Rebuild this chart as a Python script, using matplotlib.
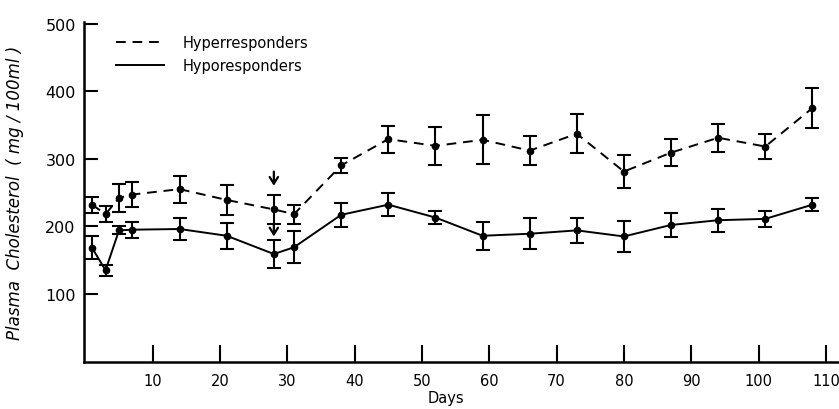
import matplotlib.pyplot as plt
from matplotlib.lines import Line2D

# plasma cholesterol over the feeding period, mean +/- SE
days = [1, 3, 5, 7, 14, 21, 28, 31, 38, 45, 52, 59, 66, 73, 80, 87, 94, 101, 108]
hyper = [232, 218, 242, 247, 255, 239, 225, 218, 290, 329, 319, 328, 312, 337, 281, 309, 331, 318, 375]
hyper_err = [12, 12, 21, 19, 20, 22, 21, 14, 11, 20, 28, 36, 22, 29, 25, 20, 21, 19, 29]
hypo = [168, 135, 194, 195, 196, 186, 159, 169, 217, 232, 213, 186, 189, 194, 185, 202, 209, 211, 232]
hypo_err = [17, 8, 6, 12, 16, 19, 21, 24, 18, 17, 9, 21, 23, 18, 23, 18, 17, 12, 10]

xticks = [10, 20, 30, 40, 50, 60, 70, 80, 90, 100, 110]
yticks = [100, 200, 300, 400, 500]

plt.rcParams['font.family'] = 'DejaVu Sans'
fig = plt.figure(figsize=(8.39, 4.10), dpi=100)
ax = fig.add_axes([84 / 839, 47.5 / 410, 754 / 839, 340 / 410])

dash = (0, (5, 3.5))
ax.plot(days, hyper, color='black', lw=1.4, linestyle=dash, marker='o', ms=4.5)
ax.errorbar(days, hyper, yerr=hyper_err, fmt='none', ecolor='black', elinewidth=1.5,
            capsize=5, capthick=1.5)
ax.plot(days, hypo, color='black', lw=1.4, marker='o', ms=4.5)
ax.errorbar(days, hypo, yerr=hypo_err, fmt='none', ecolor='black', elinewidth=1.5,
            capsize=5, capthick=1.5)

# arrows marking day 28
for y0, y1 in [(281, 260), (204, 185)]:
    ax.annotate('', xy=(28, y1), xytext=(28, y0),
                arrowprops=dict(arrowstyle='->,head_length=0.4,head_width=0.25',
                                color='black', lw=1.6, mutation_scale=12,
                                shrinkA=0, shrinkB=0))

ax.set_xlim(-0.2, 111.8)
ax.set_ylim(0, 503)
ax.set_xticks(xticks)
ax.set_xticklabels([str(t) for t in xticks])
ax.set_yticks(yticks)
ax.set_yticklabels([str(t) for t in yticks])
ax.tick_params(axis='x', direction='in', length=12, width=1.5, labelsize=10.5, pad=8)
ax.tick_params(axis='y', direction='in', length=10, width=1.5, labelsize=11.5, pad=6)
for s in ['top', 'right']:
    ax.spines[s].set_visible(False)
for s in ['left', 'bottom']:
    ax.spines[s].set_linewidth(1.8)

ax.set_xlabel('Days', fontsize=10.5)
ax.xaxis.set_label_coords(0.48, -0.085)
ax.set_ylabel('Plasma  Cholesterol  ( mg / 100ml )', fontsize=12, style='italic')
ax.yaxis.set_label_coords(-0.08, 0.5)

handles = [Line2D([], [], color='black', lw=1.4, linestyle=dash),
           Line2D([], [], color='black', lw=1.4)]
ax.legend(handles, ['Hyperresponders', 'Hyporesponders'], loc='upper left',
          frameon=False, fontsize=10.5, handlelength=3.3, handletextpad=1.3,
          labelspacing=0.55, bbox_to_anchor=(0.025, 1.0))

fig.savefig('out.png', dpi=100)
